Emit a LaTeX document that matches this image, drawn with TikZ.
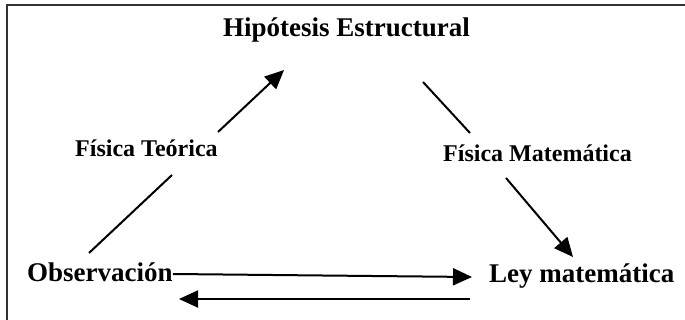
\documentclass[tikz,border=0pt]{standalone}
\usepackage{fontspec}
\setmainfont{Liberation Serif}
\usepackage{tikz}
\usetikzlibrary{arrows.meta}

\begin{document}
\begin{tikzpicture}[x=1pt, y=-1pt,
    every node/.style={inner sep=0pt, anchor=base west},
    bigtxt/.style={font=\fontsize{27}{30}\selectfont\bfseries},
    smalltxt/.style={font=\fontsize{24}{27}\selectfont\bfseries},
    link/.style={line width=2pt},
    arr/.style={link, -{Triangle[length=19pt, width=17pt]}}]
  \useasboundingbox (0,0) rectangle (685,320);
  % frame (cut off at right and bottom)
  \draw[line width=1.2pt, black!80] (7,320) -- (7,5) -- (685,5);
  % labels
  \node[bigtxt] (hip) at (223,37) {Hipótesis Estructural};
  \node[smalltxt] (ft) at (75,157) {Física Teórica};
  \node[smalltxt] (fm) at (443,162) {Física Matemática};
  \node[bigtxt] (obs) at (27,281) {Observación};
  \node[bigtxt] (ley) at (489,283) {Ley matemática};
  % free ends of the connectors
  \coordinate (obs-up) at (89,253);
  \coordinate (ft-dn) at (172,175);
  \coordinate (ft-up) at (218,132);
  \coordinate (hip-l) at (284,70);
  \coordinate (hip-r) at (423,82);
  \coordinate (fm-up) at (470,133);
  \coordinate (fm-dn) at (506,178);
  \coordinate (ley-up) at (573,257);
  \coordinate (ley-l) at (472,277);
  \coordinate (ley-b) at (470,299);
  \coordinate (obs-b) at (179,299);
  % connectors
  \draw[link] (obs-up) -- (ft-dn);
  \draw[arr] (ft-up) -- (hip-l);
  \draw[link] (hip-r) -- (fm-up);
  \draw[arr] (fm-dn) -- (ley-up);
  \draw[arr] ([yshift=7pt]obs.base east) -- (ley-l);
  \draw[arr] (ley-b) -- (obs-b);
\end{tikzpicture}
\end{document}
